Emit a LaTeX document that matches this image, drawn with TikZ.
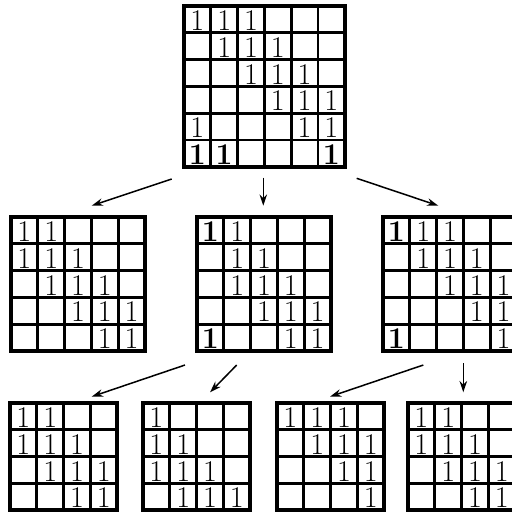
\documentclass[tikz,border=0pt]{standalone}
\usetikzlibrary{arrows.meta}
\tikzset{
  cellline/.style={line width=1.4pt},
  boardedge/.style={line width=2pt},
  one/.style={font=\fontsize{16}{19}\selectfont, inner sep=0pt},
  boldone/.style={font=\fontsize{16}{19}\selectfont\bfseries, inner sep=0pt},
  move/.style={line width=0.8pt, -{Stealth[length=6pt,width=4pt]}}
}
%n x n board, upper left corner at the origin of the current scope (one unit = one cell)
\newcommand{\board}[1]{%
  \pgfmathtruncatemacro{\boardlast}{#1-1}%
  \foreach \i in {1,...,\boardlast} {
    \draw[cellline] (\i,0)--(\i,#1);
    \draw[cellline] (0,\i)--(#1,\i);
  }
  \draw[boardedge] (0,0) rectangle (#1,#1);
}
%Ones on a board: style, name prefix, list of column/row
\newcommand{\ones}[3]{%
  \foreach \c/\r in {#3} \node[#1] (#2-\c-\r) at (\c-0.5,\r-0.46) {1};
}

\begin{document}
\begin{tikzpicture}[x=0.5cm,y=-0.5cm] %y runs downwards, rows are counted from the top
\useasboundingbox (0,0) rectangle (19.104,19.179);
\clip (0,0) rectangle (19.104,19.179); %Right hand boards are cut off by the page edge

%Root: 6 x 6 board
\begin{scope}[shift={(6.866,0.224)},scale=1,rotate=0]
\board{6}
\ones{one}{top}{1/1,2/1,3/1,2/2,3/2,4/2,3/3,4/3,5/3,4/4,5/4,6/4,1/5,5/5,6/5}
\ones{boldone}{top}{1/6,2/6,6/6}
\end{scope}

%Second level: 5 x 5 boards
\begin{scope}[shift={(0.410,8.097)},scale=1,rotate=0]
\board{5}
\ones{one}{ml}{1/1,2/1,1/2,2/2,3/2,2/3,3/3,4/3,3/4,4/4,5/4,4/5,5/5}
\end{scope}
\begin{scope}[shift={(7.351,8.097)},scale=1,rotate=0]
\board{5}
\ones{one}{mc}{2/1,2/2,3/2,2/3,3/3,4/3,3/4,4/4,5/4,4/5,5/5}
\ones{boldone}{mc}{1/1,1/5}
\end{scope}
\begin{scope}[shift={(14.291,8.097)},scale=1,rotate=0]
\board{5}
\ones{one}{mr}{2/1,3/1,2/2,3/2,4/2,3/3,4/3,5/3,4/4,5/4,5/5}
\ones{boldone}{mr}{1/1,1/5}
\end{scope}

%Third level: 4 x 4 boards
\begin{scope}[shift={(0.373,15.037)},scale=1,rotate=0]
\board{4}
\ones{one}{ba}{1/1,2/1,1/2,2/2,3/2,2/3,3/3,4/3,3/4,4/4}
\end{scope}
\begin{scope}[shift={(5.336,15.037)},scale=1,rotate=0]
\board{4}
\ones{one}{bb}{1/1,1/2,2/2,1/3,2/3,3/3,2/4,3/4,4/4}
\end{scope}
\begin{scope}[shift={(10.336,15.037)},scale=1,rotate=0]
\board{4}
\ones{one}{bc}{1/1,2/1,3/1,2/2,3/2,4/2,3/3,4/3,4/4}
\end{scope}
\begin{scope}[shift={(15.224,15.037)},scale=1,rotate=0]
\board{4}
\ones{one}{bd}{1/1,2/1,1/2,2/2,3/2,2/3,3/3,4/3,3/4,4/4}
\end{scope}

%Arrow ends
\coordinate (top-l) at (6.407,6.679);  \coordinate (ml-in) at (3.422,7.675);
\coordinate (top-c) at (9.825,6.631);  \coordinate (mc-in) at (9.825,7.675);
\coordinate (top-r) at (13.310,6.653); \coordinate (mr-in) at (16.354,7.675);
\coordinate (mc-l) at (6.903,13.620);  \coordinate (ba-in) at (3.422,14.800);
\coordinate (mc-r) at (8.832,13.620);  \coordinate (bb-in) at (7.836,14.640);
\coordinate (mr-l) at (15.795,13.620); \coordinate (bc-in) at (12.313,14.800);
\coordinate (mr-r) at (17.287,13.556); \coordinate (bd-in) at (17.287,14.638);

%Arrows
\draw[move] (top-l)--(ml-in);
\draw[move] (top-c)--(mc-in);
\draw[move] (top-r)--(mr-in);
\draw[move] (mc-l)--(ba-in);
\draw[move] (mc-r)--(bb-in);
\draw[move] (mr-l)--(bc-in);
\draw[move] (mr-r)--(bd-in);
\end{tikzpicture}
\end{document}
